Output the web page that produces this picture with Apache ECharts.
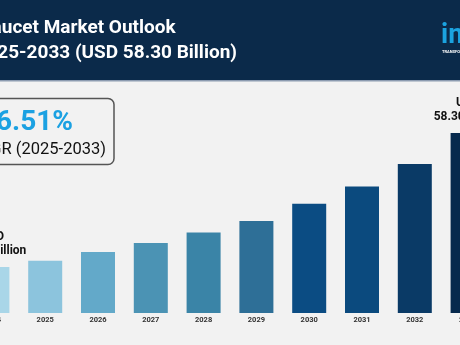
<!DOCTYPE html>
<html>
<head>
<meta charset="utf-8">
<script src="https://cdn.jsdelivr.net/npm/echarts@6/dist/echarts.min.js"></script>
<style>
  html, body { margin: 0; padding: 0; background: #f2f2f2; }
  #chart { width: 460px; height: 345px; }
</style>
</head>
<body>
<div id="chart"></div>
<script>
// Market size by year, USD billion
const years = ['2024', '2025', '2026', '2027', '2028', '2029', '2030', '2031', '2032', '2033'];
const marketSize = [14.90, 16.94, 19.76, 22.67, 26.10, 29.80, 35.40, 41.00, 48.26, 58.30];
const barColors = ['#a9d6e8', '#8cc4dd', '#63a9c9', '#4b93b4', '#3a84a7', '#2e6f97', '#0b4c83', '#0b4a7e', '#0a3a66', '#06294d'];
// Years whose bars carry a value callout
const labelledYears = ['2024', '2033'];

const titleLines = ['Faucet Market Outlook', '2025-2033 (USD 58.30 Billion)'];
const cagrValue = '16.51%';
const cagrText = 'CAGR (2025-2033)';

const chart = echarts.init(document.getElementById('chart'), null, { renderer: 'canvas' });

const barData = marketSize.map((v, i) => {
  const item = { value: v, itemStyle: { color: barColors[i] } };
  if (labelledYears.includes(years[i])) {
    item.label = {
      show: true,
      position: 'top',
      distance: 9,
      formatter: 'USD\n' + v.toFixed(2) + ' Billion',
      fontFamily: 'Roboto',
      fontWeight: 'bold',
      fontSize: 12,
      lineHeight: 14,
      color: '#111111',
      align: 'center'
    };
  }
  return item;
});

chart.setOption({
  backgroundColor: '#f2f2f2',
  animation: false,
  // the outer bars run past both edges of the canvas
  grid: { left: -34, right: -34, top: 66, bottom: 32, outerBoundsMode: 'none', containLabel: false },
  xAxis: {
    type: 'category',
    data: years,
    axisLine: { show: false },
    axisTick: { show: false },
    axisLabel: {
      margin: 3,
      fontSize: 7.5,
      fontWeight: 'bold',
      fontFamily: 'Roboto',
      color: '#333333',
      hideOverlap: false
    }
  },
  yAxis: {
    type: 'value',
    min: 0,
    max: 80,
    show: false,
    splitLine: { show: false }
  },
  series: [{
    type: 'bar',
    barWidth: 34,
    data: barData,
    label: { show: false }
  }],
  graphic: [
    { type: 'rect', z: 10, shape: { x: 0, y: 0, width: 460, height: 80 }, style: { fill: '#0b2a4a' } },
    { type: 'rect', z: 10, shape: { x: 0, y: 80, width: 460, height: 1.5 }, style: { fill: '#8c9bb0' } },
    { type: 'text', z: 11, x: -18.5, y: 28,
      style: { text: titleLines[0], font: 'bold 19px Roboto', fill: '#ffffff', textAlign: 'left', textVerticalAlign: 'middle', align: 'left', verticalAlign: 'middle' } },
    { type: 'text', z: 11, x: -24.5, y: 53,
      style: { text: titleLines[1], font: 'bold 19px Roboto', fill: '#ffffff', textAlign: 'left', textVerticalAlign: 'middle', align: 'left', verticalAlign: 'middle' } },
    { type: 'text', z: 11, x: 441, y: 36,
      style: { text: 'imarc', font: 'bold 27px Roboto', fill: '#1ba3e0', textAlign: 'left', textVerticalAlign: 'middle', align: 'left', verticalAlign: 'middle' } },
    { type: 'text', z: 11, x: 442, y: 52,
      style: { text: 'TRANSFORMING IDEAS INTO IMPACT', font: 'bold 4px Roboto', fill: '#ffffff', textAlign: 'left', textVerticalAlign: 'middle', align: 'left', verticalAlign: 'middle' } },
    { type: 'rect', z: 10, shape: { x: -60, y: 98.5, width: 174, height: 66, r: 6 },
      style: { fill: '#f2f2f2', stroke: '#555555', lineWidth: 1.5 } },
    { type: 'text', z: 11, x: 73, y: 123,
      style: { text: cagrValue, font: 'bold 28px Roboto', fill: '#1ba1e2', textAlign: 'right', textVerticalAlign: 'middle', align: 'right', verticalAlign: 'middle' } },
    { type: 'text', z: 11, x: 106, y: 150,
      style: { text: cagrText, font: '16.5px Roboto', fill: '#111111', textAlign: 'right', textVerticalAlign: 'middle', align: 'right', verticalAlign: 'middle' } }
  ]
});
</script>
</body>
</html>
